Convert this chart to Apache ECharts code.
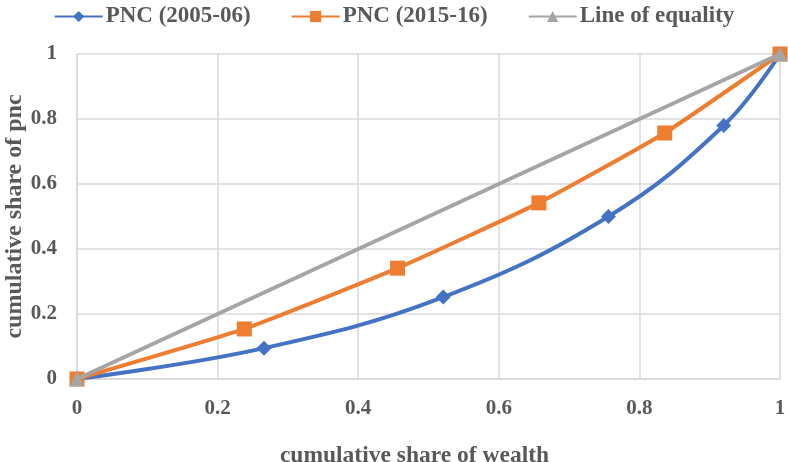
<!DOCTYPE html>
<html><head><meta charset="utf-8">
<script src="https://cdn.jsdelivr.net/npm/echarts@6/dist/echarts.min.js"></script>
<style>html,body{margin:0;padding:0;background:#fff}#c{width:788px;height:462px}</style>
</head><body><div id="c"></div>
<script>
const seriesNames = ['PNC (2005-06)', 'PNC (2015-16)', 'Line of equality'];
const pnc0506 = [[0,0],[0.266,0.095],[0.521,0.252],[0.756,0.500],[0.920,0.780],[1,1]];
const pnc1516 = [[0,0],[0.238,0.154],[0.456,0.341],[0.657,0.542],[0.836,0.757],[1,1]];
const equality = [[0,0],[1,1]];
const xTicks = [0,0.2,0.4,0.6,0.8,1];
const yTicks = [0,0.2,0.4,0.6,0.8,1];
const xName = 'cumulative share of wealth';
const yName = 'cumulative share of pnc';

const font = '"Liberation Serif", "Times New Roman", serif';
const txt = '#595959';
const chart = echarts.init(document.getElementById('c'));
chart.setOption({
  animation: false,
  textStyle: {fontFamily: font},
  legend: {
    top: 0, left: 'center', itemWidth: 48, itemHeight: 14, itemGap: 40,
    textStyle: {fontFamily: font, fontWeight: 'bold', fontSize: 23, color: txt, padding: [0,0,0,-2]},
    data: seriesNames
  },
  grid: {left: 77, right: 8, top: 54, bottom: 83, containLabel: false, outerBoundsMode: 'none'},
  xAxis: {
    type: 'value', min: 0, max: 1, interval: 0.2,
    name: xName, nameLocation: 'middle', nameGap: 65, nameMoveOverlap: false,
    nameTextStyle: {fontFamily: font, fontWeight: 'bold', fontSize: 23.5, color: txt, padding: [0, 28, 0, 0]},
    axisLine: {show: true, lineStyle: {color: '#d9d9d9', width: 1.5}},
    axisTick: {show: false},
    splitLine: {show: true, lineStyle: {color: '#d9d9d9', width: 1.5}},
    axisLabel: {margin: 19, fontFamily: font, fontWeight: 'bold', fontSize: 21, color: txt,
      formatter: v => { const t = xTicks.find(x => Math.abs(x - v) < 1e-9); return t === undefined ? '' : String(t); }}
  },
  yAxis: {
    type: 'value', min: 0, max: 1, interval: 0.2,
    name: yName, nameLocation: 'middle', nameGap: 50, nameMoveOverlap: false,
    nameTextStyle: {fontFamily: font, fontWeight: 'bold', fontSize: 24, color: txt},
    axisLine: {show: true, lineStyle: {color: '#d9d9d9', width: 1.5}},
    axisTick: {show: false},
    splitLine: {show: true, lineStyle: {color: '#d9d9d9', width: 1.5}},
    axisLabel: {margin: 20, fontFamily: font, fontWeight: 'bold', fontSize: 21, color: txt,
      formatter: v => { const t = yTicks.find(x => Math.abs(x - v) < 1e-9); return t === undefined ? '' : String(t); }}
  },
  series: [
    {name: seriesNames[0], type: 'line', data: pnc0506, smooth: 0.4,
      symbol: 'diamond', symbolSize: 15, color: '#4472C4',
      lineStyle: {width: 4, color: '#4472C4'}, itemStyle: {color: '#4472C4'}, z: 3},
    {name: seriesNames[1], type: 'line', data: pnc1516, smooth: 0.15,
      symbol: 'rect', symbolSize: 15, color: '#ED7D31',
      lineStyle: {width: 4, color: '#ED7D31'}, itemStyle: {color: '#ED7D31'}, z: 4},
    {name: seriesNames[2], type: 'line', data: equality,
      symbol: 'triangle', symbolSize: 15, color: '#A5A5A5',
      lineStyle: {width: 4, color: '#A5A5A5'}, itemStyle: {color: '#A5A5A5'}, z: 5}
  ]
});
</script></body></html>
